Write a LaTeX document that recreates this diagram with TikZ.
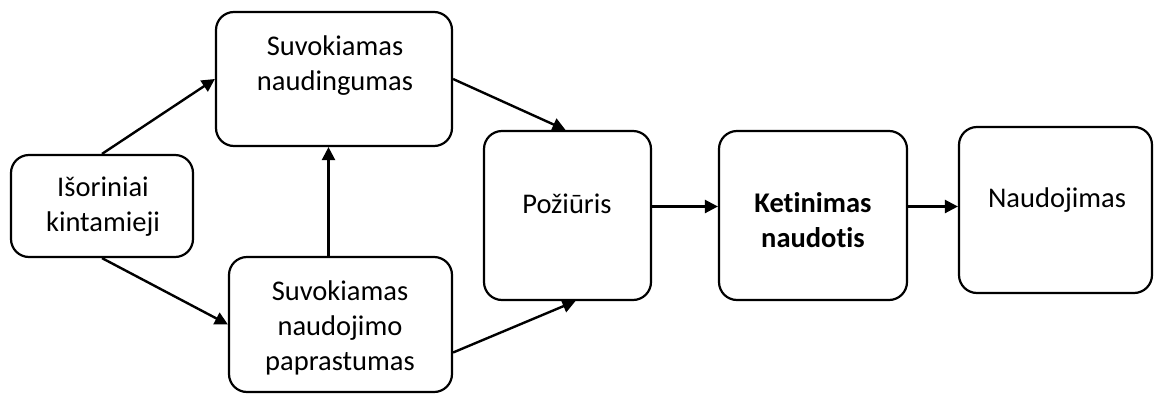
\documentclass[tikz,border=0pt]{standalone}
\usepackage{fontspec}
\setmainfont{Carlito}[Ligatures=NoCommon]
\usetikzlibrary{arrows.meta,calc}
\begin{document}
\begin{tikzpicture}[x=1pt,y=-1pt,
  box/.style={draw, line width=2.2pt, rounded corners=18pt, inner sep=0pt},
  lbl/.style={font=\fontsize{28.5}{35}\selectfont, align=center, inner sep=0pt},
  arr/.style={line width=2.4pt, -{Triangle[length=13pt,width=13pt]}}]
\useasboundingbox (0,0) rectangle (1154,394);
% boxes
\node[box, minimum width=182pt, minimum height=102pt] (iso) at (102,206) {};
\node[box, minimum width=236pt, minimum height=134pt] (naud) at (334,79) {};
\node[box, minimum width=223pt, minimum height=135pt] (papr) at (340.5,324.5) {};
\node[box, minimum width=167pt, minimum height=169pt] (poz) at (567.5,215.5) {};
\node[box, minimum width=188pt, minimum height=169pt] (ket) at (813,215.5) {};
\node[box, minimum width=193pt, minimum height=166pt] (naudo) at (1055.5,210) {};
% labels
\node[lbl] (isot) at (103,207) {Išoriniai\\kintamieji};
\node[lbl] (naudt) at (335,66) {Suvokiamas\\naudingumas};
\node[lbl] (paprt) at (340,328) {Suvokiamas\\naudojimo\\paprastumas};
\node[lbl] (pozt) at (567,204) {Požiūris};
\node[lbl, font=\fontsize{28.5}{35}\selectfont\bfseries] (kett) at (813,220) {Ketinimas\\naudotis};
\node[lbl] (naudot) at (1057,200) {Naudojimas};
% arrows
\draw[arr] (iso.north) -- (naud.west);
\draw[arr] (iso.south) -- (papr.west);
\draw[arr] ([xshift=-12pt]papr.north) -- ([xshift=-12pt]papr.north |- naud.south);
\draw[arr] (naud.east) -- ([xshift=-2pt]poz.north);
\draw[arr] ([yshift=-28pt]papr.east) -- ([xshift=8pt]poz.south);
\draw[arr] ([yshift=9pt]poz.east) -- ([yshift=9pt]poz.east -| ket.west);
\draw[arr] ([yshift=9pt]ket.east) -- ([yshift=9pt]ket.east -| naudo.west);
\end{tikzpicture}
\end{document}
